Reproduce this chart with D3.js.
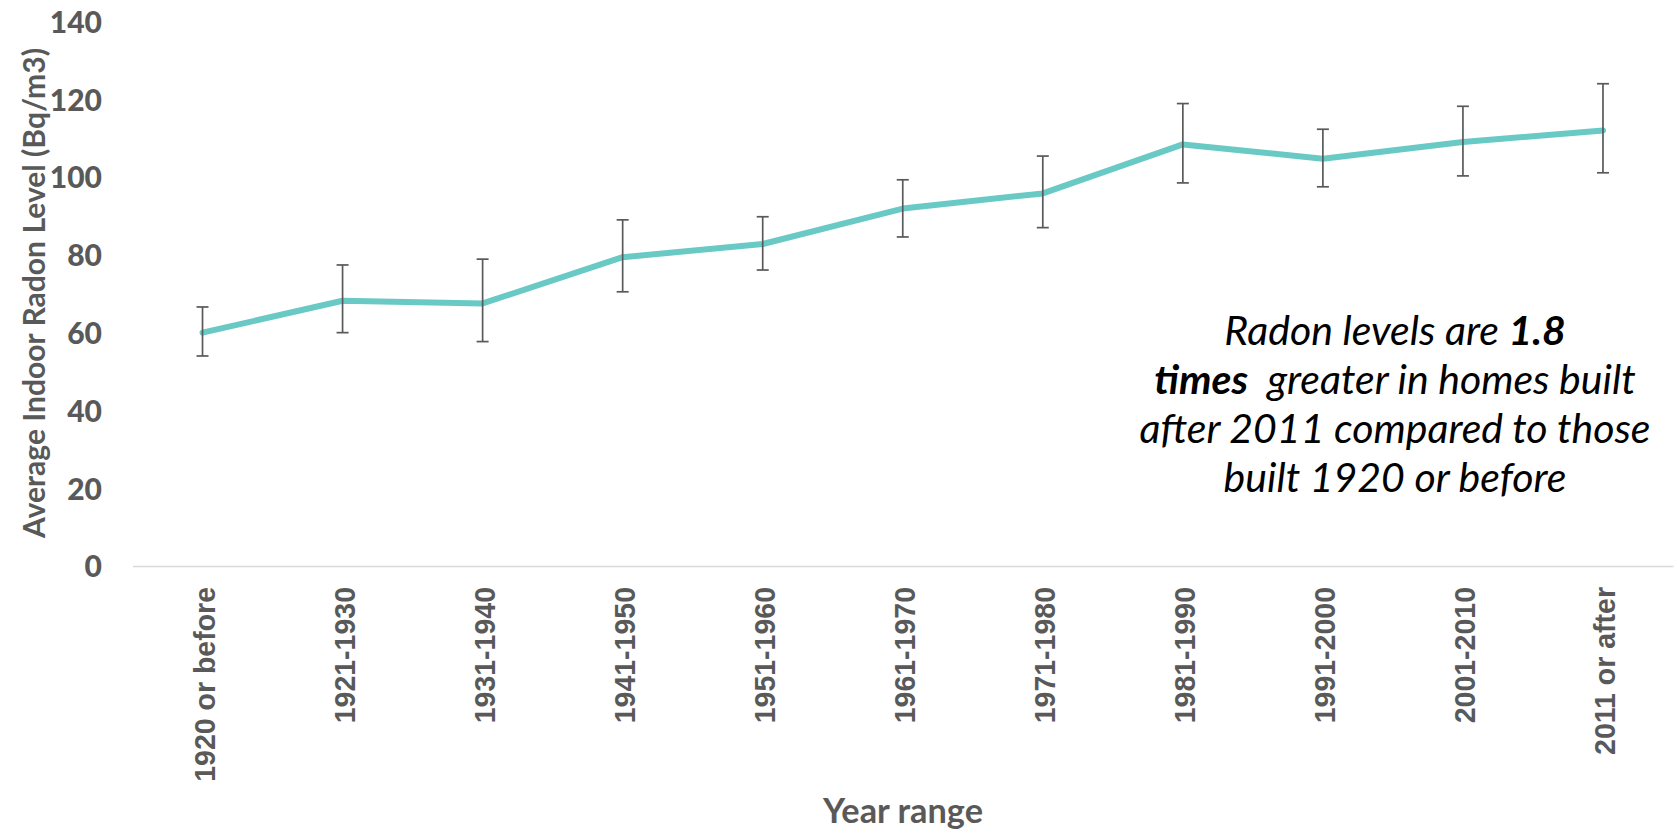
<!DOCTYPE html>
<html>
<head>
<meta charset="utf-8">
<script src="https://cdn.jsdelivr.net/npm/d3@7"></script>
<style>
  html, body { margin: 0; padding: 0; background: #ffffff; }
  svg { display: block; }
</style>
</head>
<body>
<svg id="chart" width="1677" height="833"></svg>
<script>
const categories = ["1920 or before","1921-1930","1931-1940","1941-1950","1951-1960","1961-1970","1971-1980","1981-1990","1991-2000","2001-2010","2011 or after"];
const means = [60.0, 68.2, 67.5, 79.4, 82.8, 91.9, 95.8, 108.4, 104.7, 109.0, 112.0];
const upper = [66.6, 77.4, 78.9, 89.0, 89.8, 99.3, 105.4, 118.9, 112.3, 118.2, 124.0];
const lower = [54.0, 60.0, 57.7, 70.5, 76.1, 84.6, 87.0, 98.5, 97.5, 100.3, 101.1];
const yTicks = [0, 20, 40, 60, 80, 100, 120, 140];
const yTitle = "Average Indoor Radon Level (Bq/m3)";
const xTitle = "Year range";

const svg = d3.select("#chart");
const gray = "#595959";
const calibri = "Lato, 'Open Sans', sans-serif";

const x = d3.scaleBand().domain(categories).range([132.5, 1673]).padding(0);
const y = d3.scaleLinear().domain([0, 140]).range([566, 21.5]);
const cx = d => x(d) + x.bandwidth() / 2;

// Y axis (labels only)
const yAxis = svg.append("g")
  .attr("transform", "translate(132.5,0)")
  .call(d3.axisLeft(y).tickValues(yTicks).tickSize(0).tickPadding(30.5));
yAxis.select(".domain").remove();
yAxis.selectAll("text")
  .attr("fill", gray)
  .style("font-family", calibri)
  .style("font-weight", "900")
  .style("font-size", "30px")
  .attr("dy", "0.36em");

// X axis
const xAxis = svg.append("g")
  .attr("transform", "translate(0,566)")
  .call(d3.axisBottom(x).tickSize(0));
xAxis.select(".domain").attr("stroke", "#D9D9D9").attr("stroke-width", 1.5);
xAxis.selectAll(".tick text")
  .attr("fill", gray)
  .style("font-family", "'Liberation Sans', Arial, sans-serif")
  .style("font-weight", "bold")
  .style("font-size", "30px")
  .attr("text-anchor", "end")
  .attr("x", 0).attr("y", 0)
  .attr("dy", "0.4em")
  .attr("transform", "translate(0,21) rotate(-90) scale(0.95,1)");

// Line
const line = d3.line().x((d, i) => cx(categories[i])).y(d => y(d));
svg.append("path")
  .datum(means)
  .attr("d", line)
  .attr("fill", "none")
  .attr("stroke", "#69C9C5")
  .attr("stroke-width", 6)
  .attr("stroke-linejoin", "round")
  .attr("stroke-linecap", "round");

// Error bars
const eb = svg.append("g").attr("stroke", gray).attr("stroke-width", 1.7);
categories.forEach((c, i) => {
  const xc = cx(c);
  eb.append("line").attr("x1", xc).attr("x2", xc).attr("y1", y(upper[i])).attr("y2", y(lower[i]));
  eb.append("line").attr("x1", xc - 6).attr("x2", xc + 6).attr("y1", y(upper[i])).attr("y2", y(upper[i]));
  eb.append("line").attr("x1", xc - 6).attr("x2", xc + 6).attr("y1", y(lower[i])).attr("y2", y(lower[i]));
});

// Axis titles
svg.append("text")
  .attr("transform", "translate(45,293) rotate(-90)")
  .attr("text-anchor", "middle")
  .attr("fill", gray)
  .attr("textLength", 490)
  .attr("lengthAdjust", "spacingAndGlyphs")
  .style("font-family", calibri)
  .style("font-weight", "bold")
  .style("font-size", "30px")
  .text(yTitle);

svg.append("text")
  .attr("x", 903).attr("y", 823)
  .attr("text-anchor", "middle")
  .attr("fill", gray)
  .attr("textLength", 160)
  .attr("lengthAdjust", "spacingAndGlyphs")
  .style("font-family", calibri)
  .style("font-weight", "bold")
  .style("font-size", "34px")
  .text(xTitle);

// Annotation
const annLines = [
  [["Radon levels are ", false], ["1.8", true]],
  [["times", true], ["  greater in homes built", false]],
  [["after 2011 compared to those", false]],
  [["built 1920 or before", false]]
];
const ann = svg.append("text")
  .attr("text-anchor", "middle")
  .attr("fill", "#000")
  .style("font-family", calibri)
  .style("font-style", "italic")
  .style("font-size", "41px")
  .style("white-space", "pre");
annLines.forEach((parts, li) => {
  const t = ann.append("tspan").attr("x", 1395).attr("y", 345 + li * 49);
  parts.forEach(([s, b]) => {
    t.append("tspan").style("font-weight", b ? "bold" : "normal").text(s);
  });
});
</script>
</body>
</html>
